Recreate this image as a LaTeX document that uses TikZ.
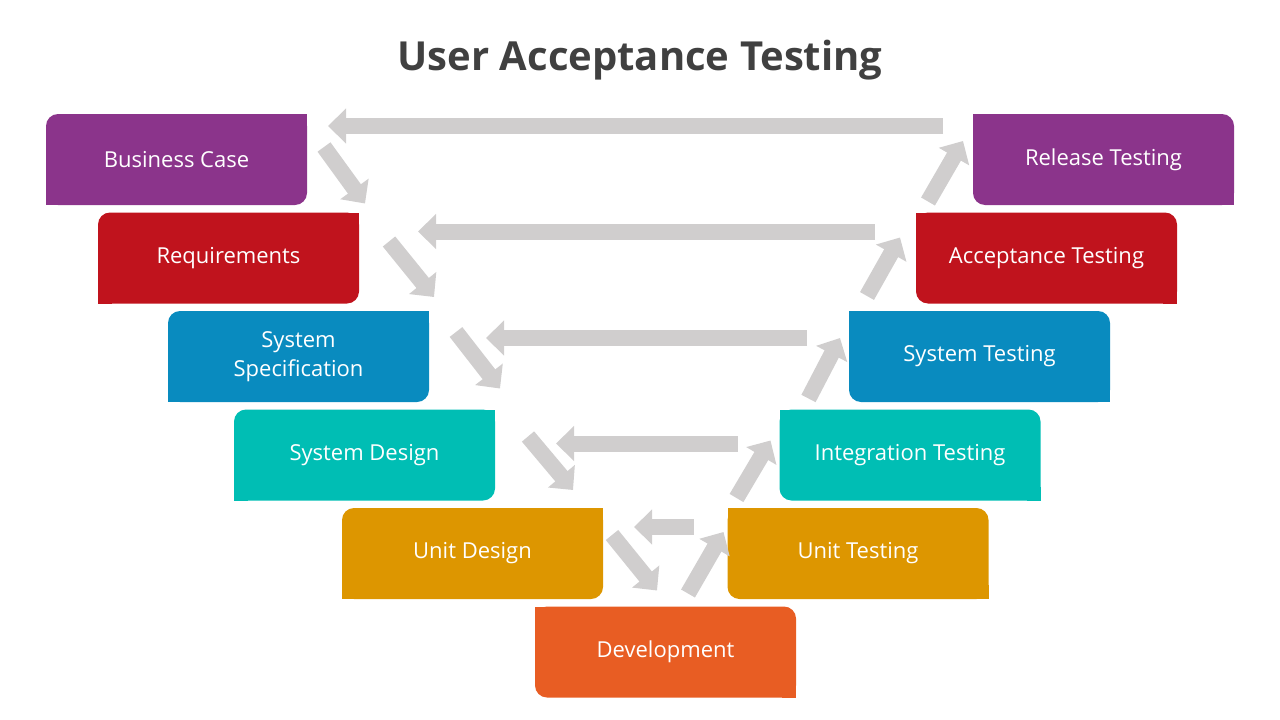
\documentclass[tikz,border=0pt]{standalone}
\usepackage{fontspec}
\setmainfont{Open Sans}
\usepackage{xcolor}
\usepackage{tikz}
\usetikzlibrary{arrows.meta,calc}
\definecolor{plum}{RGB}{139,52,139}
\definecolor{crimson}{RGB}{192,19,29}
\definecolor{ocean}{RGB}{9,139,191}
\definecolor{teal}{RGB}{0,190,180}
\definecolor{amber}{RGB}{221,150,0}
\definecolor{rust}{RGB}{232,93,35}
\definecolor{arrowgray}{RGB}{208,206,206}
\definecolor{titlegray}{RGB}{64,64,64}

\begin{document}
\begin{tikzpicture}[x=1pt, y=-1pt,
  stage/.style={rectangle, minimum width=261pt, minimum height=91pt, inner sep=0pt, outer sep=0pt, align=center, rounded corners=12pt, text=white, font=\fontsize{22}{29}\selectfont},
  flow/.style={draw=arrowgray, line width=16pt, -{Triangle[length=18pt, width=34pt]}}
]
\useasboundingbox (0,0) rectangle (1280,720);

% Title
\node[font=\fontsize{40}{48}\selectfont\bfseries, text=titlegray] (title) at (640,60) {User Acceptance Testing};

% Left side (design)
\node[stage, fill=plum] (bc) at (176.5,159.5) {Business Case};
\node[stage, fill=crimson] (rq) at (228.5,258) {Requirements};
\node[stage, fill=ocean] (ss) at (298.5,356.5) {System\\Specification};
\node[stage, fill=teal] (sd) at (364.5,455) {System Design};
\node[stage, fill=amber] (ud) at (472.5,553.5) {Unit Design};

% Bottom
\node[stage, fill=rust] (dv) at (665.5,652) {Development};

% Right side (testing)
\node[stage, fill=amber] (ut) at (858,553.5) {Unit Testing};
\node[stage, fill=teal] (it) at (910,455) {Integration Testing};
\node[stage, fill=ocean] (st) at (979.5,356.5) {System Testing};
\node[stage, fill=crimson] (at) at (1046.5,258) {Acceptance Testing};
\node[stage, fill=plum] (rt) at (1103.5,159.5) {Release Testing};

% Sharp corners
\foreach \n/\c in {bc/plum, rq/crimson, ss/ocean, sd/teal, ud/amber} {
  \fill[\c] (\n.north east) rectangle ([xshift=-14pt, yshift=-14pt]\n.north east);
  \fill[\c] (\n.south west) rectangle ([xshift=14pt, yshift=14pt]\n.south west);
}
\foreach \n/\c in {dv/rust, ut/amber, it/teal, st/ocean, at/crimson, rt/plum} {
  \fill[\c] (\n.north west) rectangle ([xshift=14pt, yshift=-14pt]\n.north west);
  \fill[\c] (\n.south east) rectangle ([xshift=-14pt, yshift=14pt]\n.south east);
}

% Down arrows
\draw[flow] ($(bc.north east)+(17,33)$) -- ($(rq.north east)+(6,-9)$);
\draw[flow] ($(rq.north east)+(30,29)$) -- ($(ss.north east)+(5,-14)$);
\draw[flow] ($(ss.north east)+(27,21)$) -- ($(sd.north east)+(5,-21)$);
\draw[flow] ($(sd.north east)+(33,27)$) -- ($(ud.north east)+(-30,-18)$);
\draw[flow] ($(ud.north east)+(9,27)$) -- ($(dv.north west)+(122,-16)$);

% Up arrows
\draw[flow] ($(dv.north west)+(153,-13)$) -- ($(ut.north west)+(-4,24)$);
\draw[flow] ($(ut.north west)+(9,-10)$) -- ($(it.north west)+(-9,31)$);
\draw[flow] ($(it.north west)+(29,-11)$) -- ($(st.north west)+(-9,27)$);
\draw[flow] ($(st.north west)+(18,-15)$) -- ($(at.north west)+(-16,25)$);
\draw[flow] ($(at.north west)+(12,-11)$) -- ($(rt.north west)+(-10,27)$);

% Back arrows
\draw[flow] ($(rt.north west)+(-30,12)$) -- ($(bc.north east)+(21,12)$);
\draw[flow] ($(at.north west)+(-41,19)$) -- ($(rq.north east)+(59,19)$);
\draw[flow] ($(st.north west)+(-42,27)$) -- ($(ss.north east)+(57,27)$);
\draw[flow] ($(it.north west)+(-42,34)$) -- ($(sd.north east)+(61,34)$);
\draw[flow] ($(ut.north west)+(-34,19)$) -- ($(ud.north east)+(31,19)$);

\end{tikzpicture}
\end{document}
